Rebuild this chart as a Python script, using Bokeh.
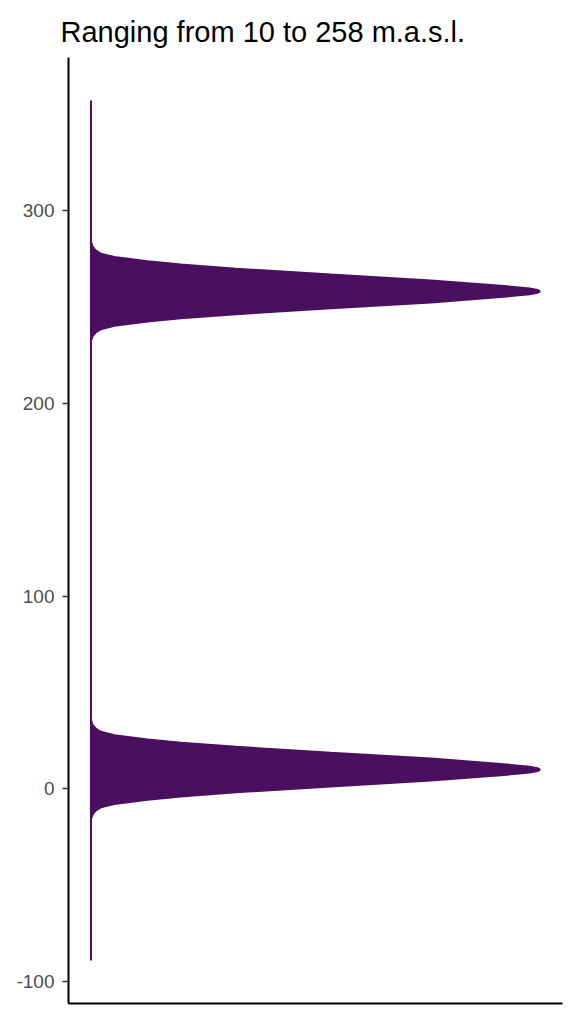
from bokeh.plotting import figure
from bokeh.models import FixedTicker, PrintfTickFormatter
from bokeh.embed import file_html
from bokeh.resources import INLINE

# ---- data ----
title_text = "Ranging from 10 to 258 m.a.s.l."
peaks = [10, 258]                 # elevation of the two modes (m.a.s.l.)
elev_min, elev_max = -89, 357     # extent of the density support
# density profile around each mode (offset in m, relative density)
profile_offset = [0, 0.75, 1.5, 3.1, 5.7, 8.7, 11.8, 13.9, 15.6, 17.8, 19.6, 21.0, 22.2, 23.5, 25.9]
profile_density = [1.0, 0.994, 0.977, 0.905, 0.757, 0.534, 0.323, 0.200, 0.126, 0.052, 0.022, 0.012, 0.007, 0.003, 0.0]
y_ticks = [-100, 0, 100, 200, 300]

COLOR = "#4A0F5E"

# ---- build outline ----
xs = [0.0]
ys = [float(elev_min)]
for pk in peaks:
    for off, d in zip(reversed(profile_offset), reversed(profile_density)):
        ys.append(pk - off)
        xs.append(d)
    for off, d in zip(profile_offset[1:], profile_density[1:]):
        ys.append(pk + off)
        xs.append(d)
xs.append(0.0)
ys.append(float(elev_max))

span = elev_max - elev_min
p = figure(width=574, height=1024, output_backend="svg", toolbar_location=None,
           x_range=(-0.05, 1.05), y_range=(elev_min - 0.05 * span, elev_max + 0.05 * span),
           min_border_left=68, min_border_right=12, min_border_top=57, min_border_bottom=21)

p.patch(xs, ys, fill_color=COLOR, line_color=COLOR, line_width=2)

p.xgrid.visible = False
p.ygrid.visible = False
p.outline_line_color = None
p.background_fill_color = "white"

p.yaxis.ticker = FixedTicker(ticks=y_ticks)
p.yaxis.formatter = PrintfTickFormatter(format="%d")
p.yaxis.minor_tick_line_color = None
p.yaxis.major_tick_in = 0
p.yaxis.major_tick_out = 6
p.yaxis.major_tick_line_color = "#333333"
p.yaxis.major_tick_line_width = 1.5
p.yaxis.axis_line_color = "black"
p.yaxis.axis_line_width = 2
p.yaxis.major_label_text_font = "Liberation Sans"
p.yaxis.major_label_text_font_size = "19px"
p.yaxis.major_label_text_color = "#4d4d4d"
p.yaxis.major_label_standoff = 8

p.xaxis.ticker = FixedTicker(ticks=[])
p.xaxis.minor_tick_line_color = None
p.xaxis.major_tick_out = 0
p.xaxis.major_tick_in = 0
p.xaxis.major_label_text_font_size = "0px"
p.xaxis.axis_line_color = "black"
p.xaxis.axis_line_width = 2

p.title.text = title_text
p.title.text_font = "Liberation Sans"
p.title.text_font_size = "29px"
p.title.text_font_style = "normal"
p.title.text_color = "black"
p.title.align = "left"
p.title.offset = -8
p.title.standoff = 20

open("out.html", "w").write(file_html(p, INLINE))
